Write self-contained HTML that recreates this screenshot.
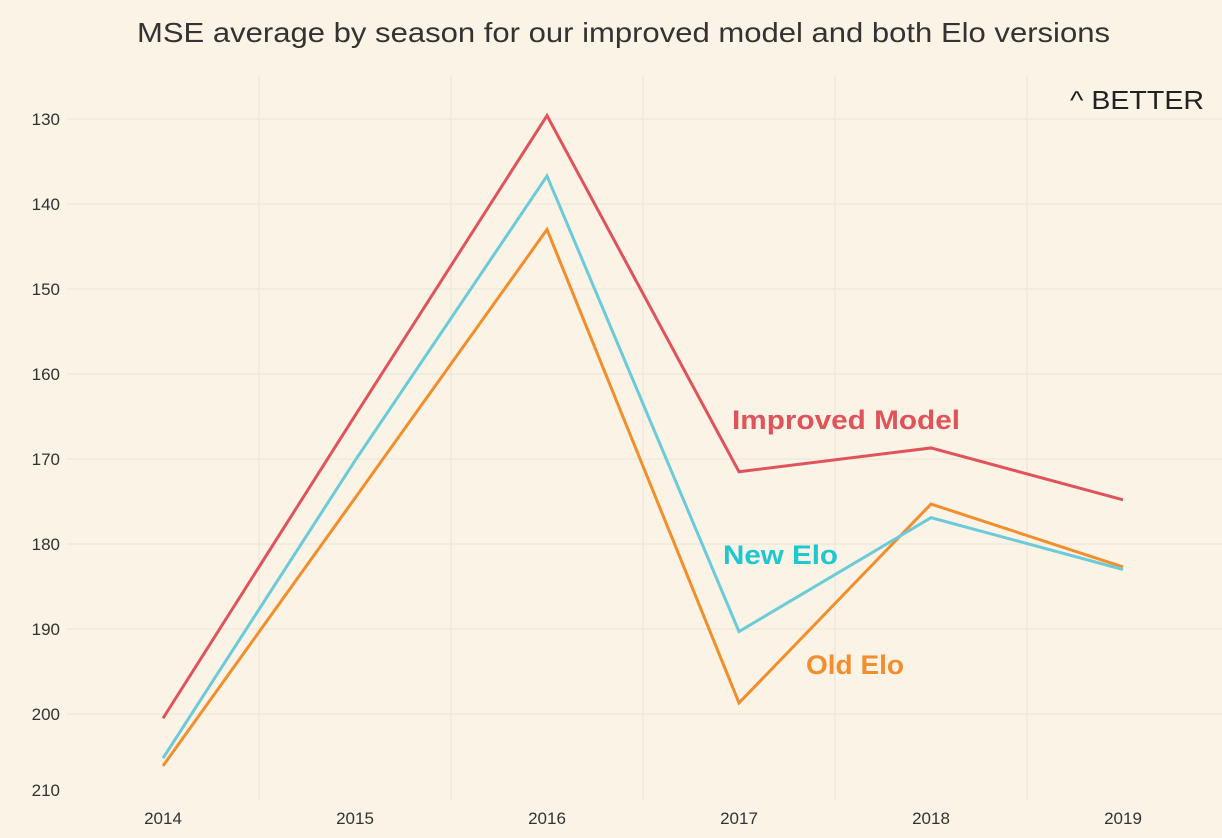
<!DOCTYPE html>
<html><head><meta charset="utf-8"><style>
body{margin:0;background:#faf3e6;font-family:"Liberation Sans",sans-serif}
svg{display:block}
</style></head><body>
<svg id="c" width="1222" height="838">
<rect width="1222" height="838" fill="#faf3e6"/>
<text x="137" y="42" font-size="28" fill="#333" textLength="973" lengthAdjust="spacingAndGlyphs">MSE average by season for our improved model and both Elo versions</text>
<text x="1070" y="109" font-size="26" fill="#222" textLength="134" lengthAdjust="spacingAndGlyphs">^ BETTER</text>
<g id="grid"></g><g id="lines"></g><g id="labels"></g>
<text x="732" y="429" font-size="27" font-weight="bold" fill="#e0535a" textLength="228" lengthAdjust="spacingAndGlyphs">Improved Model</text>
<text x="723" y="564" font-size="27" font-weight="bold" fill="#1ec8cf" textLength="115" lengthAdjust="spacingAndGlyphs">New Elo</text>
<text x="806" y="674" font-size="27" font-weight="bold" fill="#f28e2b" textLength="98" lengthAdjust="spacingAndGlyphs">Old Elo</text>
</svg>
<script>
const seasons=[2014,2015,2016,2017,2018,2019];
const improved=[200.5,164.9,129.6,171.5,168.7,174.8];
const newElo=[205.2,170.2,136.7,190.3,176.9,183.0];
const oldElo=[206.1,174.6,143.0,198.7,175.3,182.7];
const yTicks=[130,140,150,160,170,180,190,200,210];
const NS="http://www.w3.org/2000/svg";
const x=i=>163+i*192;
const y=v=>119+(v-130)*8.5;
const grid=document.getElementById('grid'),lines=document.getElementById('lines'),labels=document.getElementById('labels');
function mk(t,a,p){const e=document.createElementNS(NS,t);for(const k in a)e.setAttribute(k,a[k]);p.appendChild(e);return e;}
yTicks.forEach(t=>{
  if(t<210){const l=mk('line',{x1:67,x2:1222,y1:y(t),y2:y(t),stroke:'#ebe6db','stroke-width':1},grid);
  
  }
  const tx=mk('text',{x:60,y:Math.min(y(t),790)+6,'text-anchor':'end','font-size':17,fill:'#333'},labels);
  tx.textContent=t;
  
  
});
seasons.forEach((s,i)=>{
  if(i<seasons.length-1){const l=mk('line',{x1:x(i)+96,x2:x(i)+96,y1:75,y2:800,stroke:'#ebe6db','stroke-width':1},grid);
  
  }
  const tx=mk('text',{x:x(i),y:824,'text-anchor':'middle','font-size':17,fill:'#333'},labels);
  tx.textContent=s;
  
  
});
[[oldElo,'#f28e2b','old-elo-line'],[newElo,'#6bcbd9','new-elo-line'],[improved,'#e0535a','improved-model-line']].forEach(([d,c,n])=>{
  const p=mk('polyline',{points:d.map((v,i)=>x(i)+','+y(v)).join(' '),fill:'none',stroke:c,'stroke-width':3,'stroke-linejoin':'miter'},lines);
  
  
});
</script>
</body></html>
